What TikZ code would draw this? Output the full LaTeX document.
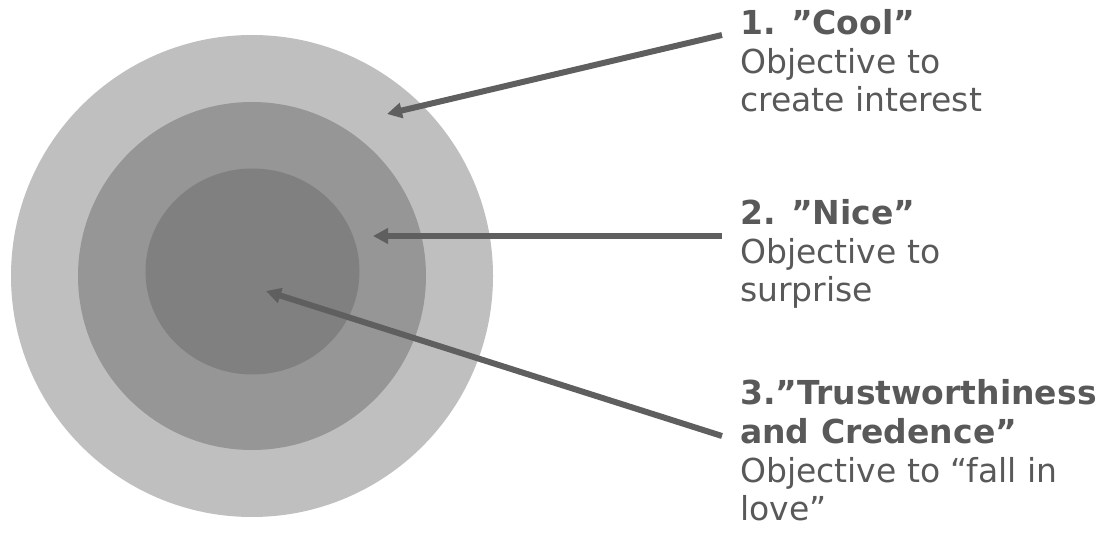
\documentclass[tikz,border=0pt]{standalone}
\usepackage{fontspec}
\setmainfont{DejaVu Sans}
\usetikzlibrary{arrows.meta}
\definecolor{ringouter}{HTML}{BFBFBF}
\definecolor{ringmiddle}{HTML}{969696}
\definecolor{ringinner}{HTML}{808080}
\definecolor{arrowgray}{HTML}{5F5F5F}
\definecolor{textgray}{HTML}{595959}
\begin{document}
\begin{tikzpicture}[x=1pt,y=-1pt,
  pointer/.style={draw=arrowgray, line width=6pt, -{Triangle[length=15pt,width=15pt]}},
  labeltext/.style={anchor=base west, inner sep=0pt, text=textgray,
    font=\fontsize{33}{38.5}\selectfont},
  headtext/.style={labeltext, font=\fontsize{33}{38.5}\selectfont\bfseries}]
\useasboundingbox (0,0) rectangle (1109,537);

% concentric rings
\fill[ringouter] (252,276) circle[radius=241pt];
\fill[ringmiddle] (252,276) circle[radius=174pt];
\fill[ringinner] (252.5,271.5) ellipse[x radius=107pt, y radius=103pt];

% target points inside the rings
\coordinate (t1) at (387,114);
\coordinate (t2) at (373,236);
\coordinate (t3) at (266,291);

% labels
\node[headtext] (h1) at (740,35) {1. ”Cool”};
\node[labeltext] (b1a) at (740,73.5) {Objective to};
\node[labeltext] (b1b) at (740,112) {create interest};

\node[headtext] (h2) at (740,225) {2. ”Nice”};
\node[labeltext] (b2a) at (740,263.5) {Objective to};
\node[labeltext] (b2b) at (740,302) {surprise};

\node[headtext] (h3) at (740,405) {3.”Trustworthiness};
\node[headtext] (h3b) at (740,443.5) {and Credence”};
\node[labeltext] (b3a) at (740,482) {Objective to “fall in};
\node[labeltext] (b3b) at (740,520.5) {love”};

% arrow tails next to the labels
\coordinate (s1) at (722,35);
\coordinate (s2) at (722,236);
\coordinate (s3) at (722,436);

\draw[pointer] (s1) -- (t1);
\draw[pointer] (s2) -- (t2);
\draw[pointer] (s3) -- (t3);
\end{tikzpicture}
\end{document}
